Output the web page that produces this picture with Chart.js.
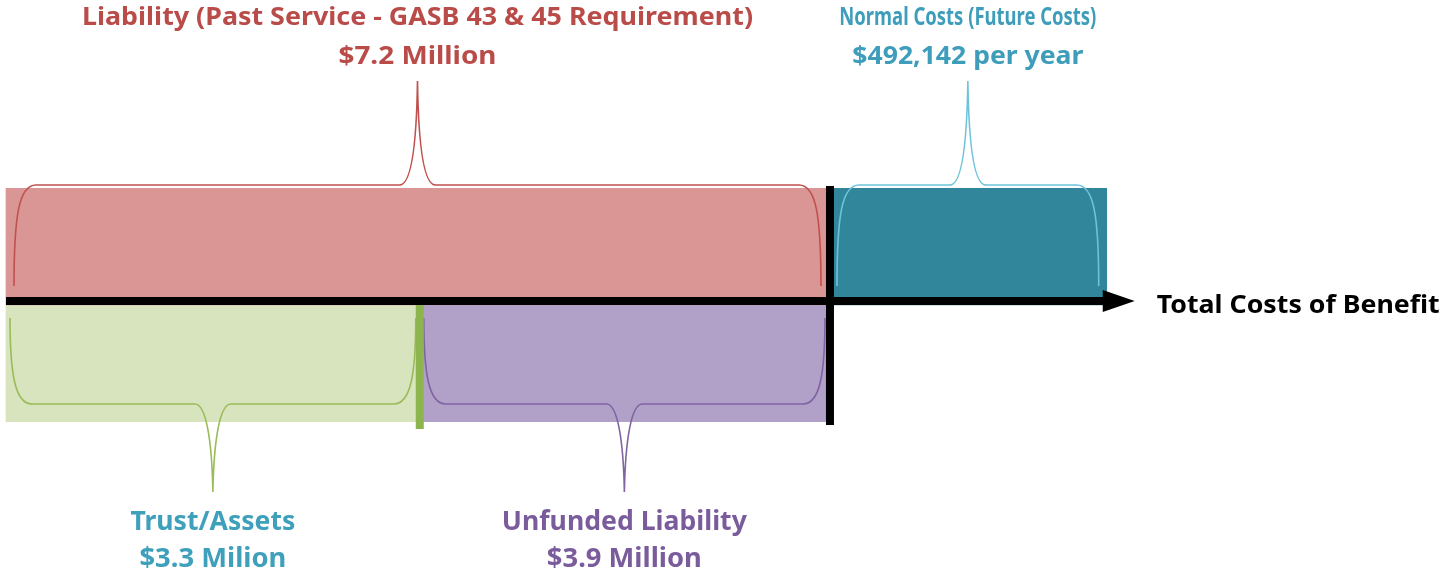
<!DOCTYPE html>
<html>
<head>
<meta charset="utf-8">
<script src="https://cdn.jsdelivr.net/npm/chart.js@4.4.1/dist/chart.umd.min.js"></script>
<style>
  html, body { margin: 0; padding: 0; background: #fff; }
  #wrap { width: 1455px; height: 576px; position: relative; }
</style>
</head>
<body>
<div id="wrap"><canvas id="costChart"></canvas></div>
<script>
// --- Data ---
const rowLabels = ['above', 'below'];
const segmentLabels = ['Liability (Past Service - GASB 43 & 45 Requirement)', 'Normal Costs (Future Costs)', 'Trust/Assets', 'Unfunded Liability'];
const segmentAmounts = ['$7.2 Million', '$492,142 per year', '$3.3 Milion', '$3.9 Million'];
const segmentRows = ['above', 'above', 'below', 'below'];
const segmentStart = [0, 7.2, 0, 3.62];
const segmentEnd = [7.2, 9.63, 3.62, 7.2];
const axisLabel = 'Total Costs of Benefit';

// --- Styles ---
const fillColors = ['#da9694', '#31869c', '#d7e4bd', '#b1a0c7'];
const braceColors = ['#c0504d', '#6ec3da', '#9bbb59', '#8064a2'];
const textColors = ['#b94b48', '#3d9dbb', '#3fa0bc', '#7a5c9c'];
const labelWidths = [671, 257, 165, 245];
const amountWidths = [158, 231, 147, 155];

// --- Datasets built from the arrays ---
const datasets = segmentLabels.map((label, i) => ({
    label: label,
    data: rowLabels.map(r => r === segmentRows[i] ? [segmentStart[i], segmentEnd[i]] : null),
    backgroundColor: fillColors[i],
    borderWidth: 0,
    barPercentage: 1,
    categoryPercentage: 1
}));

// curly brace with a spike in the middle
function drawBrace(ctx, x1, x2, yLine, yEnd, tipX, tipY, color) {
    const s = Math.sign(yEnd - yLine);
    const t = Math.sign(tipY - yLine);
    ctx.save();
    ctx.strokeStyle = color;
    ctx.lineWidth = 1.6;
    ctx.beginPath();
    ctx.moveTo(x1, yEnd);
    ctx.bezierCurveTo(x1, yLine + s * 30, x1 + 5, yLine, x1 + 22, yLine);
    ctx.lineTo(tipX - 18, yLine);
    ctx.bezierCurveTo(tipX - 7, yLine, tipX - 1, yLine + t * 35, tipX, tipY);
    ctx.bezierCurveTo(tipX + 1, yLine + t * 35, tipX + 7, yLine, tipX + 18, yLine);
    ctx.lineTo(x2 - 22, yLine);
    ctx.bezierCurveTo(x2 - 5, yLine, x2, yLine + s * 30, x2, yEnd);
    ctx.stroke();
    ctx.restore();
}

// bold text stretched or squeezed to a given width
function drawText(ctx, text, cx, baseline, size, color, width, align) {
    ctx.save();
    ctx.font = 'bold ' + size + 'px "Noto Sans", sans-serif';
    ctx.fillStyle = color;
    ctx.textBaseline = 'alphabetic';
    ctx.textAlign = 'left';
    const natural = ctx.measureText(text).width;
    const sx = width / natural;
    const left = align === 'left' ? cx : cx - width / 2;
    ctx.translate(left, baseline);
    ctx.scale(sx, 1);
    ctx.fillText(text, 0, 0);
    ctx.restore();
}

const diagramPlugin = {
    id: 'diagram',
    afterDatasetsDraw(chart) {
        const ctx = chart.ctx;
        const yScale = chart.scales.y;
        const axisY = (yScale.getPixelForValue(0) + yScale.getPixelForValue(1)) / 2 - 4;

        const boxes = segmentLabels.map((_, i) => {
            const row = rowLabels.indexOf(segmentRows[i]);
            const el = chart.getDatasetMeta(i).data[row];
            const p = el.getProps(['x', 'base', 'y', 'height'], true);
            return {
                left: Math.min(p.x, p.base), right: Math.max(p.x, p.base),
                top: p.y - p.height / 2, bottom: p.y + p.height / 2, row: row
            };
        });

        // braces
        boxes.forEach((b, i) => {
            const cx = (b.left + b.right) / 2;
            if (b.row === 0) {
                drawBrace(ctx, b.left + 8, b.right - 8, b.top - 3, axisY - 15, cx, 81, braceColors[i]);
            } else {
                drawBrace(ctx, b.left + 4, b.right - 4, b.bottom - 18, axisY + 17, cx, 492, braceColors[i]);
            }
        });

        // divider between trust and unfunded
        const trust = boxes[2];
        ctx.fillStyle = '#8db54e';
        ctx.fillRect(trust.right - 4, axisY, 8, 128);

        // black vertical at end of past liability
        const liab = boxes[0];
        ctx.fillStyle = '#000';
        ctx.fillRect(liab.right - 3, liab.top - 2, 8, 239);

        // main axis with arrow
        const normal = boxes[1];
        ctx.fillRect(liab.left, axisY - 4, normal.right - liab.left - 2, 8);
        ctx.beginPath();
        ctx.moveTo(normal.right - 4, axisY - 11);
        ctx.lineTo(normal.right + 28, axisY);
        ctx.lineTo(normal.right - 4, axisY + 11);
        ctx.closePath();
        ctx.fill();

        // labels
        boxes.forEach((b, i) => {
            const cx = (b.left + b.right) / 2;
            if (b.row === 0) {
                drawText(ctx, segmentLabels[i], cx, 25, 25, textColors[i], labelWidths[i]);
                drawText(ctx, segmentAmounts[i], cx, 64, 25, textColors[i], amountWidths[i]);
            } else {
                drawText(ctx, segmentLabels[i], cx, 530, 26, textColors[i], labelWidths[i]);
                drawText(ctx, segmentAmounts[i], cx, 567, 26, textColors[i], amountWidths[i]);
            }
        });
        drawText(ctx, axisLabel, normal.right + 50, axisY + 12, 25, '#000', 283, 'left');
    }
};

new Chart(document.getElementById('costChart'), {
    type: 'bar',
    data: { labels: rowLabels, datasets: datasets },
    options: {
        indexAxis: 'y',
        responsive: true,
        maintainAspectRatio: false,
        animation: false,
        grouped: false,
        layout: { padding: { top: 188, bottom: 154, left: 0, right: 0 } },
        plugins: { legend: { display: false }, tooltip: { enabled: false } },
        scales: {
            x: { type: 'linear', min: -0.0525, max: 12.677, display: false },
            y: { type: 'category', display: false }
        }
    },
    plugins: [diagramPlugin]
});
</script>
</body>
</html>
